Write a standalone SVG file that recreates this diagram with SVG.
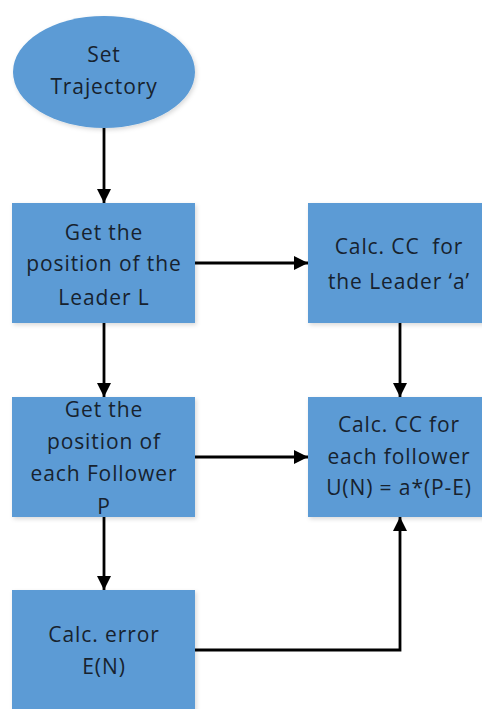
<svg xmlns="http://www.w3.org/2000/svg" width="482" height="709" viewBox="0 0 482 709">
<style>
.n{fill:#5b9bd5;filter:url(#sh)}
.t{font-family:"Open Sans","Liberation Sans",sans-serif;font-size:21px;fill:#17222e;text-anchor:middle;letter-spacing:0.9px;white-space:pre}
.c{fill:none;stroke:#000;stroke-width:2.8}
</style>
<defs>
<filter id="sh" x="-10%" y="-10%" width="130%" height="130%">
<feDropShadow dx="1.5" dy="2" stdDeviation="2" flood-color="#000" flood-opacity="0.15"/>
</filter>
<marker id="ah" viewBox="0 0 14 14" refX="14" refY="7" markerWidth="14" markerHeight="14" markerUnits="userSpaceOnUse" orient="auto">
<path d="M0,0 L14,7 L0,14 Z" fill="#000"/>
</marker>
</defs>
<g id="connectors">
<path class="c" d="M104,128 V203" marker-end="url(#ah)"/>
<path class="c" d="M195,263 H308" marker-end="url(#ah)"/>
<path class="c" d="M104,323 V397" marker-end="url(#ah)"/>
<path class="c" d="M400,323 V397" marker-end="url(#ah)"/>
<path class="c" d="M195,457 H308" marker-end="url(#ah)"/>
<path class="c" d="M104,517 V590" marker-end="url(#ah)"/>
<path class="c" d="M195,650 H400 V517" marker-end="url(#ah)"/>
</g>
<g id="start">
<ellipse class="n" cx="104" cy="72" rx="91" ry="56"/>
<text class="t" x="104" y="62">Set</text>
<text class="t" x="104" y="94">Trajectory</text>
</g>
<g id="leaderPos">
<rect class="n" x="12" y="203" width="183" height="120"/>
<text class="t" x="104" y="240">Get the</text>
<text class="t" x="104" y="271">position of the</text>
<text class="t" x="104" y="305">Leader L</text>
</g>
<g id="leaderCC">
<rect class="n" x="308" y="203" width="180" height="120"/>
<text class="t" x="399" y="254">Calc. CC  for</text>
<text class="t" x="399" y="289">the Leader ‘a’</text>
</g>
<g id="followerPos">
<rect class="n" x="12" y="397" width="183" height="120"/>
<text class="t" x="104" y="417">Get the</text>
<text class="t" x="104" y="449">position of</text>
<text class="t" x="104" y="481">each Follower</text>
<text class="t" x="104" y="514">P</text>
</g>
<g id="followerCC">
<rect class="n" x="308" y="397" width="180" height="120"/>
<text class="t" x="399" y="432">Calc. CC for</text>
<text class="t" x="399" y="464">each follower</text>
<text class="t" x="399" y="495">U(N) = a*(P-E)</text>
</g>
<g id="error">
<rect class="n" x="12" y="590" width="183" height="125"/>
<text class="t" x="104" y="642">Calc. error</text>
<text class="t" x="104" y="674">E(N)</text>
</g>
</svg>
